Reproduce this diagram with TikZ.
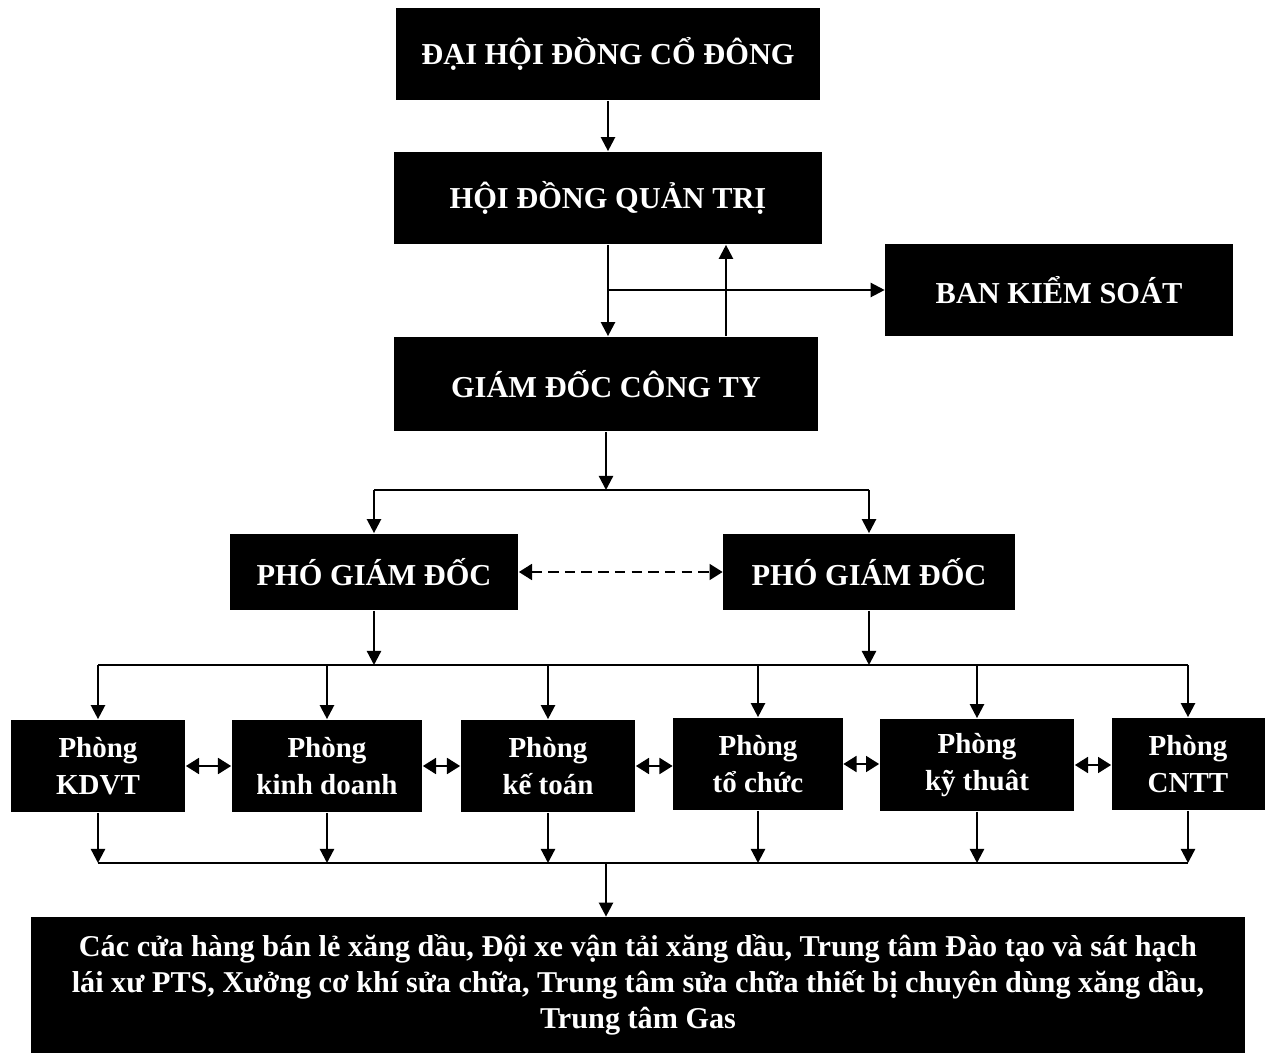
\documentclass[tikz,border=0pt]{standalone}
\usepackage{fontspec}
\setmainfont{Liberation Serif}
\usetikzlibrary{arrows.meta}
\newcommand{\headSty}{\bfseries\fontsize{17.3}{20}\selectfont}
\newcommand{\roomSty}{\bfseries\fontsize{16.5}{21}\selectfont}
\newcommand{\unitSty}{\bfseries\fontsize{17.2}{20.5}\selectfont}

\begin{document}
\begin{tikzpicture}[x=0.02cm, y=-0.02cm,
		mainBoxSty/.style={fill=black, text=white, font=\headSty, inner sep=0pt, minimum height=1.86cm},
		roomBoxSty/.style={fill=black, text=white, font=\roomSty, align=center, inner sep=0pt, minimum height=1.86cm},
		linkSty/.style={line width=1.3pt, -{Triangle[length=8pt,width=8pt]}},
		pairSty/.style={line width=1.4pt, {Triangle[length=7.5pt,width=9pt]}-{Triangle[length=7.5pt,width=9pt]}},
		]
		\useasboundingbox (0,0) rectangle (1267,1053);

		% shareholders, board, control
		\node[mainBoxSty, minimum width=8.5cm] (dhdcd) at (608,54) {ĐẠI HỘI ĐỒNG CỔ ĐÔNG};
		\node[mainBoxSty, minimum width=8.56cm] (hdqt) at (608,198) {HỘI ĐỒNG QUẢN TRỊ};
		\node[mainBoxSty, minimum width=6.96cm] (bks) at (1059,290) {BAN KIỂM SOÁT};
		\node[mainBoxSty, minimum width=8.5cm, minimum height=1.9cm] (gdct) at (606,384) {GIÁM ĐỐC CÔNG TY};

		% deputies
		\node[mainBoxSty, minimum width=5.78cm, minimum height=1.54cm] (pgdA) at (374,572) {PHÓ GIÁM ĐỐC};
		\node[mainBoxSty, minimum width=5.84cm, minimum height=1.54cm] (pgdB) at (869,572) {PHÓ GIÁM ĐỐC};

		% rooms
		\node[roomBoxSty, minimum width=3.5cm] (roomA) at (98,766) {Phòng\\KDVT};
		\node[roomBoxSty, minimum width=3.82cm] (roomB) at (327,766) {Phòng\\kinh doanh};
		\node[roomBoxSty, minimum width=3.5cm] (roomC) at (548,766) {Phòng\\kế toán};
		\node[roomBoxSty, minimum width=3.4cm] (roomD) at (758,764) {Phòng\\tổ chức};
		\node[roomBoxSty, minimum width=3.9cm] (roomE) at (977,765) {Phòng\\kỹ thuât};
		\node[roomBoxSty, minimum width=3.06cm] (roomF) at (1188,764) {Phòng\\CNTT};

		% units
		\node[fill=black, text=white, font=\unitSty, align=center, inner sep=0pt, minimum width=24.3cm, minimum height=2.72cm] (units) at (638,985) {Các cửa hàng bán lẻ xăng dầu, Đội xe vận tải xăng dầu, Trung tâm Đào tạo và sát hạch\\lái xư PTS, Xưởng cơ khí sửa chữa, Trung tâm sửa chữa thiết bị chuyên dùng xăng dầu,\\Trung tâm Gas};

		% junctions
		\coordinate (splitBks) at (608,290);
		\coordinate (splitPgd) at (606,490);
		\coordinate (splitRoom) at (606,665);
		\coordinate (joinUnits) at (606,863);

		% top links
		\draw[linkSty] (dhdcd) -- (hdqt);
		\draw[linkSty] (hdqt) -- (gdct.north -| hdqt);
		\draw[linkSty] (splitBks) -- (bks);
		\draw[linkSty] ([xshift=2.4cm]gdct.north) -- ([xshift=2.4cm]gdct.north |- hdqt.south);

		% to the deputies
		\draw[linkSty] (gdct) -- (splitPgd);
		\draw[line width=1.3pt] (pgdA |- splitPgd) -- (pgdB |- splitPgd);
		\draw[linkSty] (pgdA |- splitPgd) -- (pgdA);
		\draw[linkSty] (pgdB |- splitPgd) -- (pgdB);
		\draw[pairSty, dashed, dash pattern=on 6pt off 3.5pt] (pgdA) -- (pgdB);

		% to the rooms
		\draw[linkSty] (pgdA) -- (pgdA |- splitRoom);
		\draw[linkSty] (pgdB) -- (pgdB |- splitRoom);
		\draw[line width=1.3pt] (roomA |- splitRoom) -- (roomF |- splitRoom);
		\foreach \r in {roomA, roomB, roomC, roomD, roomE, roomF}
			\draw[linkSty] (\r |- splitRoom) -- (\r);

		% between rooms
		\draw[pairSty] (roomA.east) -- (roomA.east -| roomB.west);
		\draw[pairSty] (roomB.east) -- (roomB.east -| roomC.west);
		\draw[pairSty] (roomC.east) -- (roomC.east -| roomD.west);
		\draw[pairSty] (roomD.east) -- (roomD.east -| roomE.west);
		\draw[pairSty] (roomE.east) -- (roomE.east -| roomF.west);

		% to the units
		\foreach \r in {roomA, roomB, roomC, roomD, roomE, roomF}
			\draw[linkSty] (\r) -- (\r |- joinUnits);
		\draw[line width=1.3pt] (roomA |- joinUnits) -- (roomF |- joinUnits);
		\draw[linkSty] (joinUnits) -- (joinUnits |- units.north);

	\end{tikzpicture}
\end{document}
